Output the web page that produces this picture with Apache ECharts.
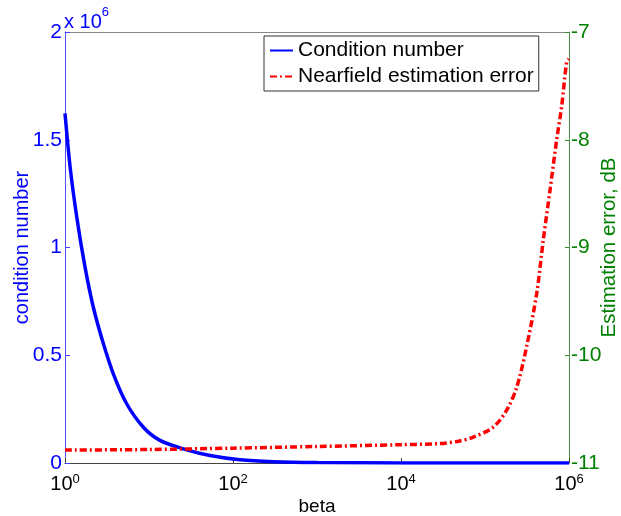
<!DOCTYPE html>
<html>
<head>
<meta charset="utf-8">
<script src="https://cdn.jsdelivr.net/npm/echarts@6/dist/echarts.min.js"></script>
<style>html,body{margin:0;padding:0;background:#fff;}#c{width:621px;height:516px;}</style>
</head>
<body>
<div id="c"></div>
<script>
// beta values and condition number (blue)
var betaCond = [1, 1.15, 1.38, 1.73, 2.17, 2.86, 3.76, 5.42, 8.57, 13.5, 28.1, 53.2, 121, 300, 1000, 10000, 100000, 1000000];
var condNumber = [1622000, 1374000, 1142000, 910000, 724000, 554000, 414000, 275000, 166000, 105000, 61000, 35000, 15000, 6000, 2000, 300, 100, 100];
// beta values and nearfield estimation error in dB (red)
var betaErr = [1, 10, 100, 1000, 10000, 29100, 50000, 72600, 125600, 181000, 238000, 313000, 412000, 494000, 594000, 713000, 818000, 938000, 1000000];
var estError = [-10.88, -10.875, -10.862, -10.847, -10.83, -10.82, -10.795, -10.76, -10.667, -10.51, -10.30, -9.92, -9.43, -8.93, -8.47, -8.00, -7.69, -7.28, -7.25];
var xTickExponents = [0, 2, 4, 6];
var leftTicks = ['0', '0.5', '1', '1.5', '2'];
var rightTicks = ['-11', '-10', '-9', '-8', '-7'];

var FONT = '"Liberation Sans", Arial, sans-serif';
var chart = echarts.init(document.getElementById('c'), null, {renderer: 'canvas'});

function pairs(xs, ys) { return xs.map(function (x, i) { return [x, ys[i]]; }); }

var option = {
  animation: false,
  backgroundColor: '#fff',
  textStyle: {fontFamily: FONT},
  grid: {left: 65, right: 52, top: 32, bottom: 53, outerBoundsMode: 'none', containLabel: false, show: false},
  legend: {
    left: 264, top: 36, orient: 'vertical',
    borderColor: '#333', borderWidth: 1, backgroundColor: '#fff',
    padding: [4, 5, 4, 5], itemGap: 5, itemWidth: 23, itemHeight: 14, itemTextGap: 4,
    itemStyle: {opacity: 0},
    textStyle: {fontSize: 21, color: '#000', fontFamily: FONT},
    data: ['Condition number', 'Nearfield estimation error']
  },
  xAxis: [
    {
      type: 'log', logBase: 10, min: 1, max: 1000000, interval: 2, position: 'bottom',
      name: 'beta', nameLocation: 'middle', nameGap: 34, nameMoveOverlap: false,
      nameTextStyle: {fontSize: 19, color: '#000', fontFamily: FONT},
      axisLine: {lineStyle: {color: '#444', width: 1}},
      axisTick: {inside: true, length: 5, lineStyle: {color: '#444'}},
      splitLine: {show: false},
      axisLabel: {
        margin: 10, color: '#000',
        formatter: function (v) {
          var e = Math.round(Math.log10(v));
          if (xTickExponents.indexOf(e) < 0) return '';
          return '{b|10}{s|' + e + '}';
        },
        rich: {
          b: {fontSize: 20, color: '#000', fontFamily: FONT, lineHeight: 22},
          s: {fontSize: 13, color: '#000', fontFamily: FONT, verticalAlign: 'top', lineHeight: 22, padding: [0, 0, 4, 0]}
        }
      }
    },
    {
      type: 'log', logBase: 10, min: 1, max: 1000000, position: 'top',
      axisLine: {show: true, lineStyle: {color: '#888', width: 1}},
      axisTick: {show: false}, axisLabel: {show: false}, splitLine: {show: false}
    }
  ],
  yAxis: [
    {
      type: 'value', min: 0, max: 2000000, interval: 500000, position: 'left',
      name: 'condition number', nameLocation: 'middle', nameGap: 33, nameRotate: 90, nameMoveOverlap: false,
      nameTextStyle: {fontSize: 20, color: '#0000ff', fontFamily: FONT},
      axisLine: {show: true, lineStyle: {color: '#5050ff', width: 1}},
      axisTick: {show: true, inside: true, length: 5, lineStyle: {color: '#4040ff'}},
      splitLine: {show: false},
      axisLabel: {
        margin: 3, fontSize: 21, color: '#0000ff', fontFamily: FONT,
        formatter: function (v) { return leftTicks[Math.round(v / 500000)]; }
      }
    },
    {
      type: 'value', min: -11, max: -7, interval: 1, position: 'right',
      name: 'Estimation error, dB', nameLocation: 'middle', nameGap: 30, nameRotate: 90, nameMoveOverlap: false,
      nameTextStyle: {fontSize: 20.5, color: '#008000', fontFamily: FONT},
      axisLine: {show: true, lineStyle: {color: '#4a904a', width: 1}},
      axisTick: {show: true, inside: true, length: 4, lineStyle: {color: '#3a8a3a'}},
      splitLine: {show: false},
      axisLabel: {
        margin: 2, fontSize: 21, color: '#008000', fontFamily: FONT,
        formatter: function (v) { return rightTicks[Math.round(v + 11)]; }
      }
    }
  ],
  graphic: [{
    type: 'text', left: 64, top: 6, z: 100,
    style: {
      text: '{b|x 10}{s|6}',
      rich: {
        b: {fontSize: 20, fill: '#0000ff', fontFamily: FONT, lineHeight: 26, verticalAlign: 'bottom'},
        s: {fontSize: 13, fill: '#0000ff', fontFamily: FONT, verticalAlign: 'top', lineHeight: 26}
      }
    }
  }],
  series: [
    {
      name: 'Condition number', type: 'line', xAxisIndex: 0, yAxisIndex: 0,
      data: pairs(betaCond, condNumber),
      showSymbol: false, symbol: 'none', smooth: 0.3,
      lineStyle: {color: '#0000ff', width: 3.5}, itemStyle: {color: '#0000ff'}, z: 3
    },
    {
      name: 'Nearfield estimation error', type: 'line', xAxisIndex: 0, yAxisIndex: 1,
      data: pairs(betaErr, estError),
      showSymbol: false, symbol: 'none', smooth: 0.3,
      lineStyle: {color: '#ff0000', width: 3.5, type: [7, 3, 2, 3]}, itemStyle: {color: '#ff0000'}, z: 4
    }
  ]
};
chart.setOption(option);
</script>
</body>
</html>
